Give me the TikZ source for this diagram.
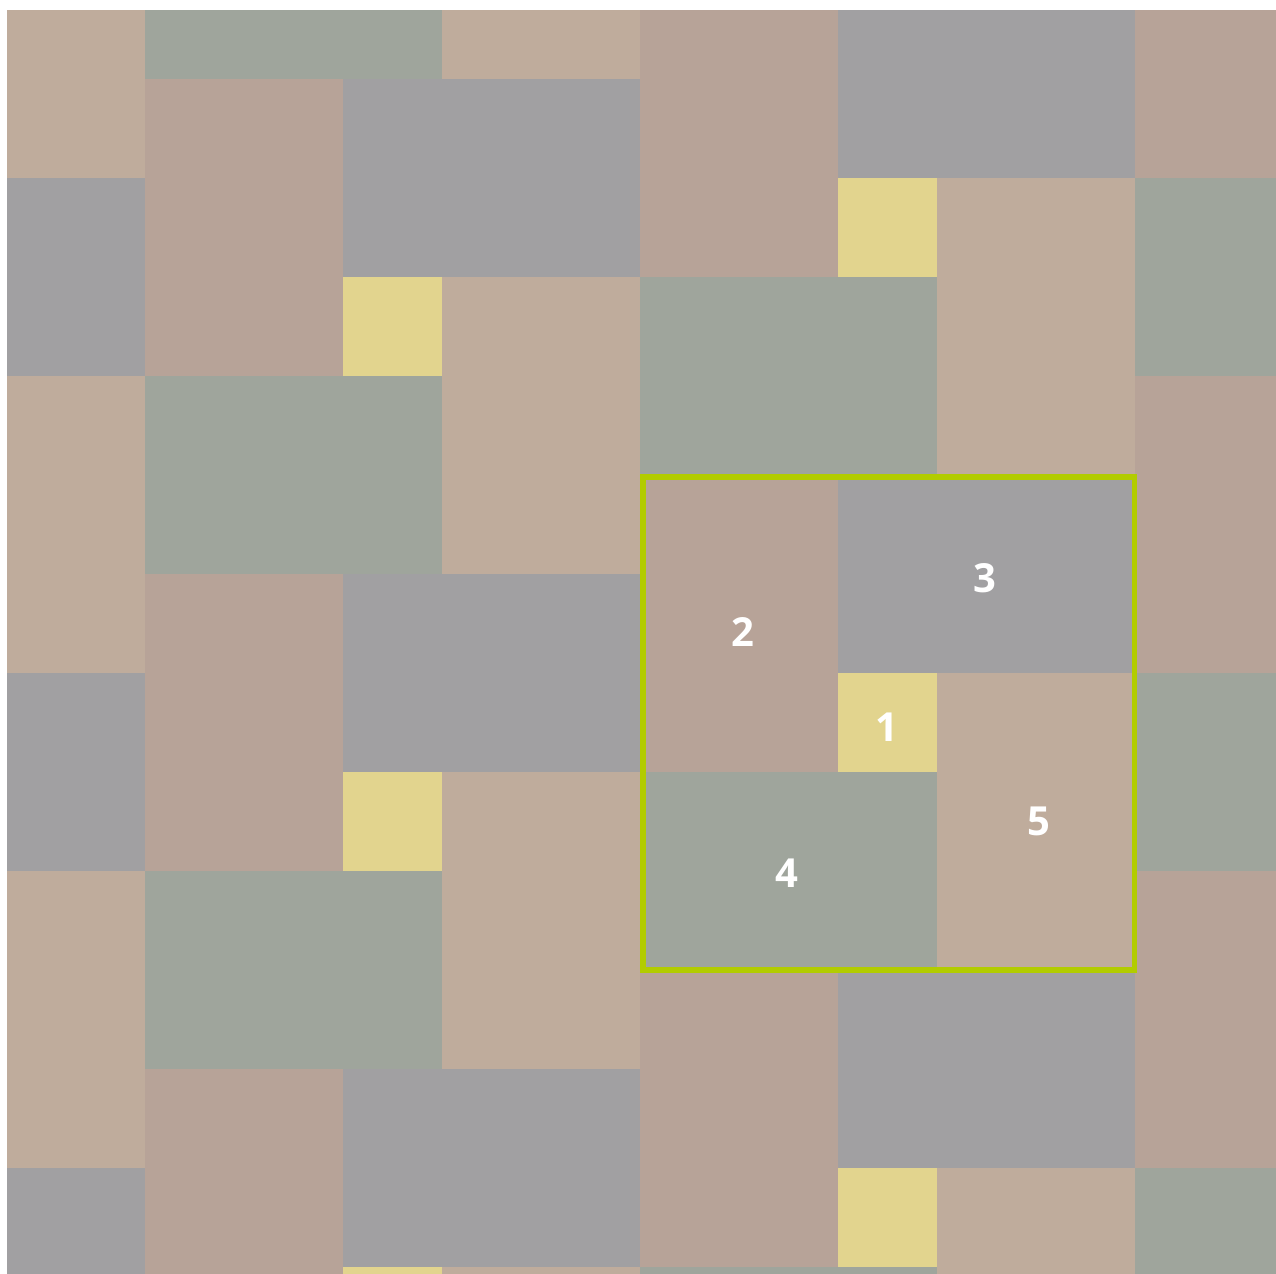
\documentclass[tikz,border=0pt]{standalone}
\usepackage{fontspec}
\setmainfont{Open Sans}
\usepackage{tikz}
\usetikzlibrary{positioning}
\definecolor{tilepink}{RGB}{183,163,152}
\definecolor{tilelilac}{RGB}{161,160,162}
\definecolor{tileyellow}{RGB}{226,212,142}
\definecolor{tiletan}{RGB}{191,172,156}
\definecolor{tilegreen}{RGB}{159,165,156}
\definecolor{framegreen}{RGB}{178,204,0}

\begin{document}
\begin{tikzpicture}[
    num/.style={text=white, inner sep=0pt, font=\fontsize{11.5}{14}\selectfont\bfseries},
    frame/.style={draw=framegreen, line width=1.45pt}]
  \useasboundingbox (-6.465,4.798) rectangle (6.424,-8.061);
  % Tiling
  \begin{scope}
    \clip (-6.394,4.697) rectangle (6.424,-8.061);
    \foreach \i in {-2,...,2} {
      \foreach \j in {-2,...,2} {
        \begin{scope}[shift={({-5*(\i)},{5*(\j)-(\i)})}]
          \fill[tilepink] (0,0) rectangle (2,-3);
          \fill[tilelilac] (2,0) rectangle (5,-2);
          \fill[tileyellow] (2,-2) rectangle (3,-3);
          \fill[tiletan] (3,-2) rectangle (5,-5);
          \fill[tilegreen] (0,-3) rectangle (3,-5);
        \end{scope}
      }
    }
  \end{scope}
  % Frame
  \draw[frame] (0.03,-0.02) rectangle (4.99,-5.0);
  % Numbers
  \node[num] (one) at (2.49,-2.55) {1};
  \node[num] (two) at (1.04,-1.59) {2};
  \node[num] (three) at (3.48,-1.04) {3};
  \node[num] (four) at (1.48,-4.02) {4};
  \node[num] (five) at (4.03,-3.50) {5};
\end{tikzpicture}
\end{document}
